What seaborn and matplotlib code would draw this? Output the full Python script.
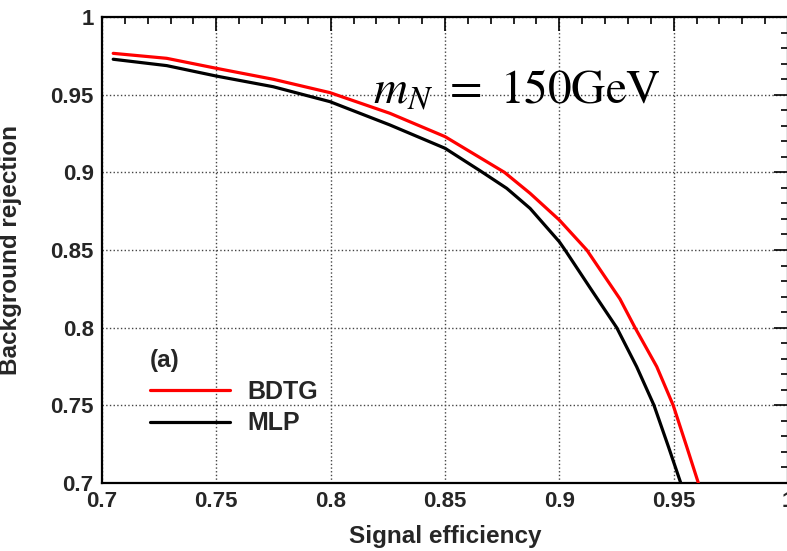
import pandas as pd
import matplotlib
matplotlib.use('Agg')
import matplotlib.pyplot as plt
import seaborn as sns
from matplotlib.ticker import FixedLocator, MultipleLocator

# ROC-Kurven (Signal efficiency vs Background rejection)
bdtg_eff = [0.7049, 0.7283, 0.7499, 0.7749, 0.7997, 0.8259, 0.85, 0.876, 0.8872, 0.9,
            0.912, 0.9265, 0.9331, 0.9426, 0.9498, 0.9557, 0.9608]
bdtg_rej = [0.9766, 0.9734, 0.967, 0.9599, 0.9513, 0.938, 0.923, 0.900, 0.8865, 0.8693,
            0.850, 0.8185, 0.800, 0.7749, 0.750, 0.7234, 0.700]

mlp_eff = [0.7049, 0.7283, 0.7499, 0.7749, 0.7997, 0.8259, 0.85, 0.866, 0.877, 0.8872, 0.9,
           0.9025, 0.9141, 0.9251, 0.9338, 0.9414, 0.9477, 0.9531]
mlp_rej = [0.9728, 0.9687, 0.962, 0.9551, 0.9455, 0.9305, 0.9155, 0.9004, 0.8897, 0.8768, 0.8553,
           0.850, 0.8242, 0.800, 0.7749, 0.750, 0.7234, 0.700]

ticks = [0.7, 0.75, 0.8, 0.85, 0.9, 0.95, 1.0]
tick_labels = ['0.7', '0.75', '0.8', '0.85', '0.9', '0.95', '1']

df = pd.concat([
    pd.DataFrame({'eff': bdtg_eff, 'rej': bdtg_rej, 'method': 'BDTG'}),
    pd.DataFrame({'eff': mlp_eff, 'rej': mlp_rej, 'method': 'MLP'}),
])

sns.set_theme(style='white')
plt.rcParams['font.family'] = ['Liberation Sans', 'DejaVu Sans']
plt.rcParams['mathtext.fontset'] = 'stix'

fig = plt.figure(figsize=(7.87, 5.51), dpi=100)
ax = fig.add_axes([102 / 787, 68 / 551, 686 / 787, 466 / 551])

sns.lineplot(data=df, x='eff', y='rej', hue='method', sort=False, estimator=None,
             palette={'BDTG': '#ff0000', 'MLP': 'black'}, linewidth=2.3, ax=ax, zorder=3)
for ln in ax.get_lines():
    ln.set_solid_joinstyle('round')

ax.set_xlim(0.7, 1.0)
ax.set_ylim(0.7, 1.0)
ax.xaxis.set_major_locator(FixedLocator(ticks))
ax.yaxis.set_major_locator(FixedLocator(ticks))
ax.set_xticklabels(tick_labels)
ax.set_yticklabels(tick_labels)
ax.xaxis.set_minor_locator(MultipleLocator(0.01))
ax.yaxis.set_minor_locator(MultipleLocator(0.01))

ax.tick_params(which='both', direction='in', top=True, right=True, color='black', width=1.2)
ax.tick_params(which='major', length=10, labelsize=16, pad=6)
ax.tick_params(which='minor', length=5)
for lbl in ax.get_xticklabels() + ax.get_yticklabels():
    lbl.set_fontweight('bold')

for s in ax.spines.values():
    s.set_color('black')
    s.set_linewidth(1.6)

ax.grid(True, which='major', linestyle=':', color='#444444', linewidth=1.0)

ax.set_xlabel('Signal efficiency', fontsize=17.5, fontweight='bold')
ax.set_ylabel('Background rejection', fontsize=17.5, fontweight='bold')
ax.xaxis.set_label_coords(0.5, -0.09)
ax.yaxis.set_label_coords(-0.117, 0.5)

leg = ax.legend(title='(a)', loc='upper left', bbox_to_anchor=(0.037, 0.335), frameon=False,
                prop={'weight': 'bold', 'size': 18}, handlelength=3.2, handletextpad=0.7,
                labelspacing=0.3, alignment='left')
leg.get_title().set_fontweight('bold')
leg.get_title().set_fontsize(17.5)

ax.text(0.395, 0.8155, r'$m_N\ =\ 150\mathrm{GeV}$', transform=ax.transAxes,
        fontsize=34, color='black', va='baseline', zorder=4)

fig.savefig('out.png', dpi=100)
